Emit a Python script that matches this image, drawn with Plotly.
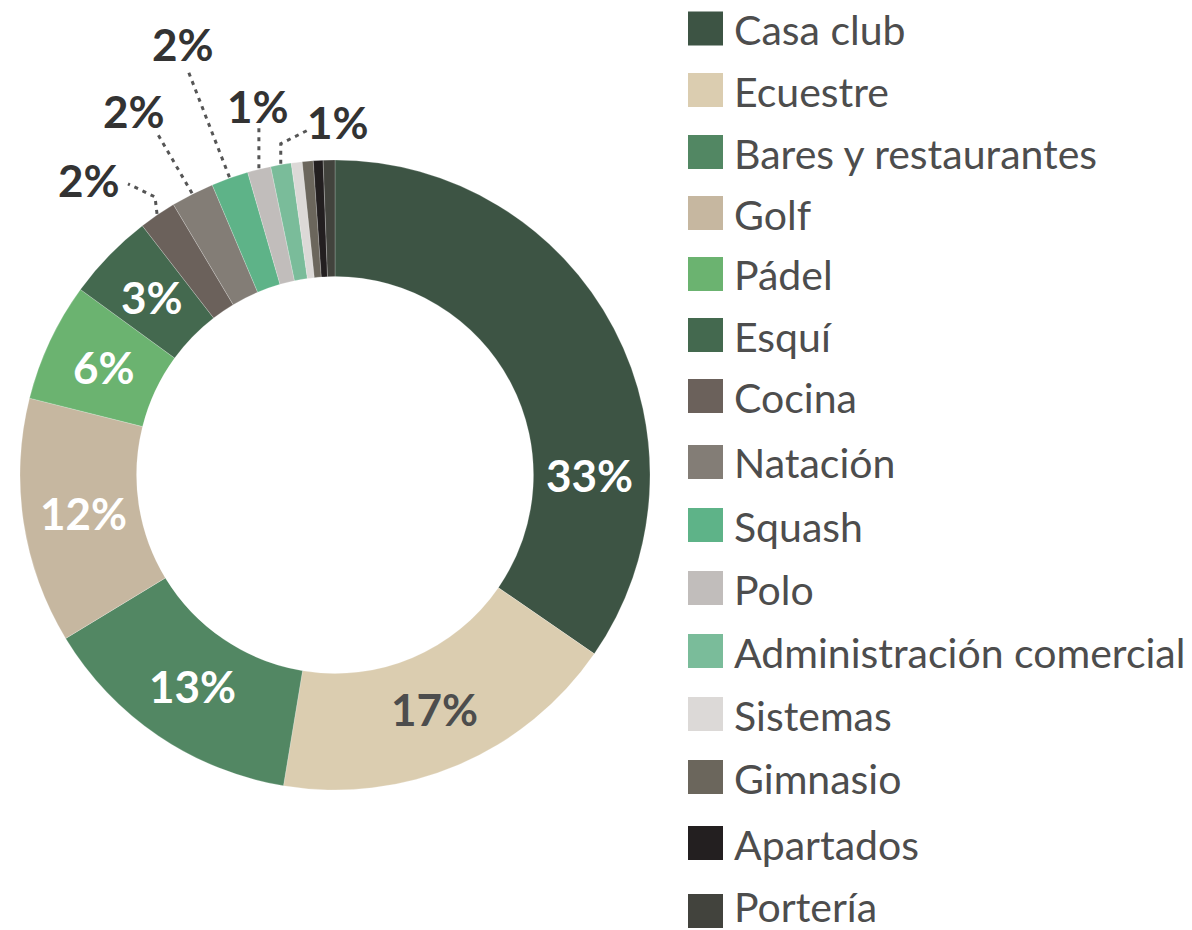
import math
import plotly.graph_objects as go

# ---- data ----
categories = ["Casa club", "Ecuestre", "Bares y restaurantes", "Golf", "Pádel", "Esquí",
              "Cocina", "Natación", "Squash", "Polo", "Administración comercial",
              "Sistemas", "Gimnasio", "Apartados", "Portería"]
values = [34.6, 18.0, 13.7, 12.6, 6.1, 4.5, 1.9, 2.2, 1.9, 1.2, 1.05, 0.56, 0.56, 0.5, 0.6]
label_text = ["33%", "17%", "13%", "12%", "6%", "3%", "2%", "2%", "2%", "1%", "1%", "", "", "", ""]
colors = ["#3d5444", "#dbcdb0", "#528763", "#c6b7a0", "#6bb370", "#44694f", "#6b615b",
          "#837d76", "#5eb388", "#c1bdbb", "#7abc9a", "#dcd9d7", "#6b665c", "#231f20", "#42433d"]

# ---- layout constants ----
W, H = 1192, 930
CX, CY, R = 335, 475, 315
HOLE = 0.63
FONT = "Lato"

def px2paper(x, y):
    return x / W, 1 - y / H

fig = go.Figure(go.Pie(
    labels=categories, values=values, hole=HOLE, sort=False,
    direction="clockwise", rotation=0,
    marker=dict(colors=colors, line=dict(color="rgba(255,255,255,0.35)", width=0.6)),
    textinfo="none", showlegend=False, hoverinfo="label+percent",
    domain=dict(x=[(CX - R) / W, (CX + R) / W], y=[1 - (CY + R) / H, 1 - (CY - R) / H]),
))

annotations = []
shapes = []

total = sum(values)
mids = []
acc = 0.0
for v in values:
    mids.append((acc + v / 2) / total * 360.0)
    acc += v

inside_color = {"Ecuestre": "#4d4d4d"}
angle_override = {"Casa club": 90.0}
outside = {
    # category: (polyline offsets from anchor, label offset)
    "Cocina": ([(0, 0), (-2, -17), (-29, -30)], (-68, -34)),
    "Natación": ([(0, 0), (-36, -62)], (-58, -82)),
    "Squash": ([(0, 0), (-42, -108)], (-46, -133)),
    "Polo": ([(0, 0), (0, -42)], (-1, -62)),
    "Administración comercial": ([(0, 0), (0, -20), (26, -33)], (57, -42)),
}

for cat, txt, mid in zip(categories, label_text, mids):
    if not txt:
        continue
    if cat in outside:
        ax = CX + (R + 1) * math.sin(math.radians(mid))
        ay = CY - (R + 1) * math.cos(math.radians(mid))
        pts, lo = outside[cat]
        path = ""
        for i, (dx, dy) in enumerate(pts):
            px, py = px2paper(ax + dx, ay + dy)
            path += ("M" if i == 0 else " L") + f"{px:.5f},{py:.5f}"
        shapes.append(dict(type="path", xref="paper", yref="paper", path=path,
                           line=dict(color="#555555", width=3, dash="4px,5px")))
        lx, ly = px2paper(ax + lo[0], ay + lo[1])
        annotations.append(dict(x=lx, y=ly, xref="paper", yref="paper", text=f"<b>{txt}</b>",
                                showarrow=False, xanchor="center", yanchor="middle",
                                font=dict(family=FONT, size=44, color="#333333")))
    else:
        ang = angle_override.get(cat, mid)
        rr = (R + R * HOLE) / 2 - 2
        x = CX + rr * math.sin(math.radians(ang))
        y = CY - rr * math.cos(math.radians(ang))
        lx, ly = px2paper(x, y)
        annotations.append(dict(x=lx, y=ly, xref="paper", yref="paper", text=f"<b>{txt}</b>",
                                showarrow=False, xanchor="center", yanchor="middle",
                                font=dict(family=FONT, size=44, color=inside_color.get(cat, "#ffffff"))))

# ---- custom legend ----
legend_rows = [28.5, 90, 152, 213, 274, 335, 396, 462, 525, 588, 651, 714, 777, 843, 911]
SW_X0, SW_X1, SW_H = 688, 723, 34
TEXT_X = 732
for i, (cat, col, yc) in enumerate(zip(categories, colors, legend_rows)):
    x0, y0 = px2paper(SW_X0, yc - SW_H / 2)
    x1, y1 = px2paper(SW_X1, min(yc + SW_H / 2, H))
    shapes.append(dict(type="rect", xref="paper", yref="paper", x0=x0, x1=x1, y0=y1, y1=y0,
                       fillcolor=col, line=dict(width=0)))
    ty_px = yc + 1 if i < len(categories) - 1 else yc - 5
    tx, ty = px2paper(TEXT_X, ty_px)
    annotations.append(dict(x=tx, y=ty, xref="paper", yref="paper", text=cat, showarrow=False,
                            xanchor="left", yanchor="middle",
                            font=dict(family=FONT, size=41, color="#4d4d4d")))

fig.update_layout(
    width=W, height=H, margin=dict(l=0, r=0, t=0, b=0),
    paper_bgcolor="white", plot_bgcolor="white",
    annotations=annotations, shapes=shapes, showlegend=False,
)

fig.write_html("out.html", config={"displayModeBar": False},
               post_script="document.body.style.margin='0';")
